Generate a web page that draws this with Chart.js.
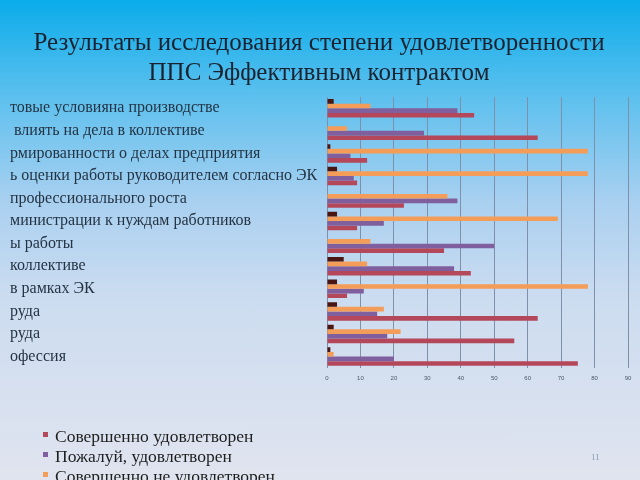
<!DOCTYPE html>
<html>
<head>
<meta charset="utf-8">
<script src="https://cdn.jsdelivr.net/npm/chart.js@4.4.1/dist/chart.umd.min.js"></script>
<style>
    html, body { margin: 0; padding: 0; width: 640px; height: 480px; overflow: hidden; }
    body {
        position: relative;
        font-family: "Liberation Serif", "DejaVu Serif", serif;
        background: linear-gradient(to bottom, #0aacea 0%, #5cc0ee 20%, #a9d0f0 42%, #ccdcf0 62%, #e0e4ef 100%);
    }
    /* slide title is centred a little right of the page centre */
    #wrap { position: absolute; left: 6px; top: 0; width: 640px; height: 480px; }
    #legend { position: absolute; left: 43px; top: 426px; font-size: 17.5px; line-height: 20px; color: #1e1e1e; }
    #legend div { white-space: nowrap; }
    #legend span { display: inline-block; width: 5px; height: 5px; margin-right: 7px; vertical-align: 5px; }
    #page { position: absolute; left: 591px; top: 452px; font-size: 9px; color: #8a9ab0; }
</style>
</head>
<body>
<div id="wrap"><canvas id="chart" width="640" height="480"></canvas></div>
<div id="legend"></div>
<div id="page">11</div>
<script>
// categories top to bottom (cut on the left in the original slide)
const categories = [
    "товые условияна производстве",
    " влиять на дела в коллективе",
    "рмированности о делах предприятия",
    "ь оценки работы руководителем согласно ЭК",
    "профессионального роста",
    "министрации к нуждам работников",
    "ы работы",
    "коллективе",
    "в рамках ЭК",
    "руда",
    "руда",
    "офессия"
];
const seriesNames = ["Совершенно удовлетворен", "Пожалуй, удовлетворен", "Совершенно не удовлетворен", "Затрудняюсь ответить"];
const fullySatisfied  = [44, 63, 12, 9, 23, 9, 35, 43, 6, 63, 56, 75];
const ratherSatisfied = [39, 29, 7, 8, 39, 17, 50, 38, 11, 15, 18, 20];
const notSatisfied    = [13, 6, 78, 78, 36, 69, 13, 12, 78, 17, 22, 2];
const hardToSay       = [2, 0, 1, 3, 0, 3, 0, 5, 3, 3, 2, 1];
const xMax = 90;
const xStep = 10;

const colors = ["#b4475a", "#7f5f9e", "#f49d58", "#4a1614"];
const values = [fullySatisfied, ratherSatisfied, notSatisfied, hardToSay];

// excel draws the first series at the bottom of each group, so reverse for chart.js
let datasets = [];
for (let i = values.length - 1; i >= 0; i--) {
    datasets.push({
        label: seriesNames[i],
        data: values[i],
        backgroundColor: colors[i],
        categoryPercentage: 0.82,
        barPercentage: 1.0
    });
}

var option = {
    type: "bar",
    data: { labels: categories, datasets: datasets },
    options: {
        indexAxis: "y",
        responsive: false,
        animation: false,
        layout: { padding: { left: 4, right: 18, top: 0, bottom: 91 } },
        plugins: {
            legend: { display: false },
            tooltip: { enabled: false },
            title: {
                display: true,
                text: ["Результаты исследования степени удовлетворенности", "ППС Эффективным контрактом"],
                color: "#1a2230",
                font: { family: "Liberation Serif", size: 25, weight: "normal", lineHeight: 1.2 },
                padding: { top: 28, bottom: 9 }
            }
        },
        scales: {
            x: {
                min: 0,
                max: xMax,
                ticks: { stepSize: xStep, color: "#4a5868", font: { size: 6 }, padding: 7 },
                grid: { color: "#7f90aa", drawTicks: false },
                border: { display: false }
            },
            y: {
                afterFit: function (scale) { scale.width = 317; },
                ticks: {
                    crossAlign: "far",
                    color: "#243444",
                    font: { family: "Liberation Serif", size: 16 },
                    padding: 0
                },
                grid: { display: false },
                border: { color: "#7f90aa" }
            }
        }
    }
};
var ctx = document.getElementById("chart").getContext("2d");
var myChart = new Chart(ctx, option);

// vertical legend like on the slide
let legendHtml = "";
for (let i = 0; i < seriesNames.length; i++) {
    legendHtml += '<div><span style="background:' + colors[i] + '"></span>' + seriesNames[i] + '</div>';
}
document.getElementById("legend").innerHTML = legendHtml;
</script>
</body>
</html>
